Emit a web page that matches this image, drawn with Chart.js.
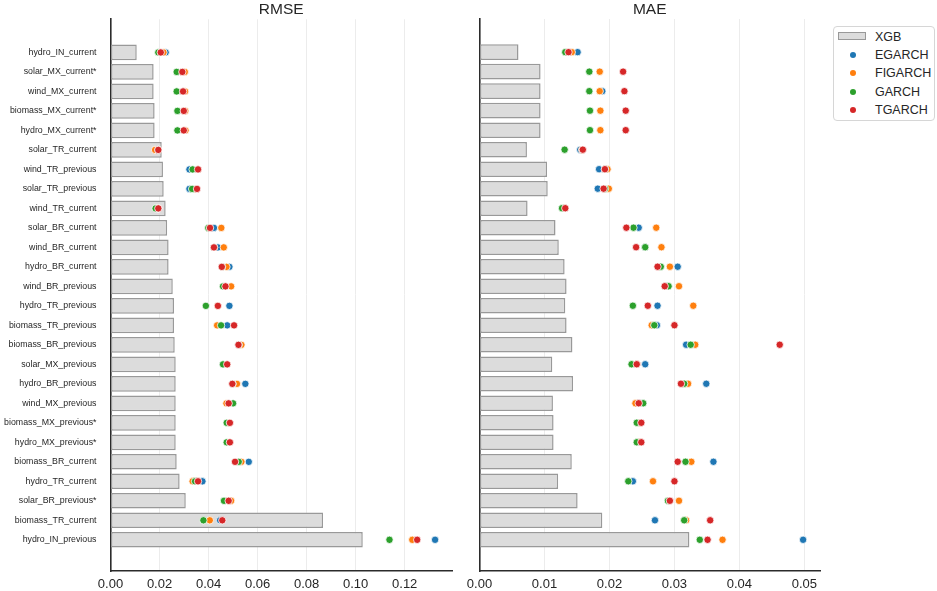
<!DOCTYPE html>
<html>
<head>
<meta charset="utf-8">
<script src="https://cdn.jsdelivr.net/npm/chart.js@4.4.1/dist/chart.umd.min.js"></script>
<style>
  html, body { margin: 0; padding: 0; background: #fff; }
  body { width: 937px; height: 591px; position: relative; overflow: hidden;
         font-family: "Liberation Sans", Arial, sans-serif; }
  canvas { position: absolute; top: 0; }
  #rmse { left: 0; }
  #mae { left: 460px; }
  #legend { position: absolute; left: 833px; top: 26px; width: 102px; height: 95px;
            border: 1px solid #d6d6d6; border-radius: 4px; box-sizing: border-box; background: #fff; }
  .item { position: absolute; left: 41px; height: 18px; line-height: 18px; font-size: 12.5px; color: #262626; }
  .patch { position: absolute; left: 4px; top: 5px; width: 28px; height: 8px; box-sizing: border-box;
           background: #dcdcdc; border: 1px solid #999999; }
  .dot { position: absolute; width: 6px; height: 6px; border-radius: 50%; left: 15.5px; }
</style>
</head>
<body>
<canvas id="rmse" width="460" height="591"></canvas>
<canvas id="mae" width="370" height="591"></canvas>
<div id="legend"></div>
<script>
// Rows, top to bottom
const categories = [
  'hydro_IN_current', 'solar_MX_current*', 'wind_MX_current', 'biomass_MX_current*', 'hydro_MX_current*',
  'solar_TR_current', 'wind_TR_previous', 'solar_TR_previous', 'wind_TR_current', 'solar_BR_current',
  'wind_BR_current', 'hydro_BR_current', 'wind_BR_previous', 'hydro_TR_previous', 'biomass_TR_previous',
  'biomass_BR_previous', 'solar_MX_previous', 'hydro_BR_previous', 'wind_MX_previous', 'biomass_MX_previous*',
  'hydro_MX_previous*', 'biomass_BR_current', 'hydro_TR_current', 'solar_BR_previous*', 'biomass_TR_current',
  'hydro_IN_previous'
];

// RMSE per model
const xgbRmse = [0.0107, 0.0176, 0.0176, 0.0180, 0.0180, 0.0209, 0.0214, 0.0217, 0.0225, 0.0231,
  0.0237, 0.0237, 0.0254, 0.0259, 0.0259, 0.0262, 0.0266, 0.0266, 0.0266, 0.0266,
  0.0266, 0.0270, 0.0282, 0.0307, 0.0867, 0.1029];
const egarchRmse = [0.0225, null, 0.0297, null, null, 0.0194, 0.0322, 0.0322, 0.0195, 0.0422,
  0.0438, 0.0485, 0.0468, 0.0485, 0.0476, 0.0522, 0.0460, 0.0550, 0.0481, null,
  null, 0.0564, 0.0375, null, 0.0447, 0.1324];
const figarchRmse = [0.0216, 0.0303, 0.0304, 0.0305, 0.0306, 0.0182, 0.0356, 0.0350, 0.0194, 0.0452,
  0.0462, 0.0473, 0.0492, 0.0437, 0.0435, 0.0534, 0.0475, 0.0516, 0.0473, 0.0486,
  0.0486, 0.0534, 0.0335, 0.0492, 0.0405, 0.1231];
const garchRmse = [0.0195, 0.0270, 0.0270, 0.0273, 0.0273, 0.0195, 0.0335, 0.0333, 0.0184, 0.0399,
  0.0423, 0.0455, 0.0459, 0.0389, 0.0451, 0.0523, 0.0459, 0.0498, 0.0500, 0.0474,
  0.0474, 0.0523, 0.0345, 0.0463, 0.0379, 0.1138];
const tgarchRmse = [0.0205, 0.0293, 0.0296, 0.0299, 0.0299, 0.0195, 0.0357, 0.0353, 0.0195, 0.0406,
  0.0422, 0.0454, 0.0469, 0.0438, 0.0504, 0.0522, 0.0476, 0.0497, 0.0482, 0.0487,
  0.0487, 0.0508, 0.0357, 0.0482, 0.0456, 0.1251];

// MAE per model
const xgbMae = [0.0060, 0.0094, 0.0094, 0.0094, 0.0094, 0.0073, 0.0104, 0.0105, 0.0074, 0.0117,
  0.0122, 0.0131, 0.0134, 0.0132, 0.0134, 0.0143, 0.0112, 0.0144, 0.0113, 0.0114,
  0.0114, 0.0142, 0.0121, 0.0151, 0.0189, 0.0323];
const egarchMae = [0.0151, null, 0.0189, null, null, 0.0155, 0.0184, 0.0182, 0.0131, 0.0245,
  0.0255, 0.0305, 0.0287, 0.0274, 0.0273, 0.0318, 0.0255, 0.0349, 0.0245, null,
  null, 0.0360, 0.0236, null, 0.0270, 0.0498];
const figarchMae = [0.0142, 0.0185, 0.0185, 0.0186, 0.0186, 0.0158, 0.0197, 0.0199, 0.0131, 0.0272,
  0.0280, 0.0293, 0.0307, 0.0329, 0.0265, 0.0332, 0.0242, 0.0321, 0.0240, 0.0247,
  0.0247, 0.0326, 0.0267, 0.0307, 0.0318, 0.0374];
const garchMae = [0.0132, 0.0169, 0.0169, 0.0170, 0.0170, 0.0131, 0.0193, 0.0193, 0.0127, 0.0237,
  0.0255, 0.0279, 0.0291, 0.0236, 0.0269, 0.0325, 0.0234, 0.0315, 0.0252, 0.0242,
  0.0242, 0.0317, 0.0229, 0.0290, 0.0315, 0.0339];
const tgarchMae = [0.0137, 0.0221, 0.0223, 0.0225, 0.0225, 0.0159, 0.0193, 0.0191, 0.0132, 0.0226,
  0.0241, 0.0274, 0.0285, 0.0259, 0.0300, 0.0462, 0.0242, 0.0310, 0.0245, 0.0249,
  0.0249, 0.0305, 0.0300, 0.0293, 0.0355, 0.0351];

// Axis ticks
const rmseTicks = [0, 0.02, 0.04, 0.06, 0.08, 0.10, 0.12];
const maeTicks = [0, 0.01, 0.02, 0.03, 0.04, 0.05];

const TEXT = '#262626';
const FONT = '"Liberation Sans", Arial, sans-serif';
const models = [
  { name: 'EGARCH', color: '#1f77b4' },
  { name: 'FIGARCH', color: '#ff7f0e' },
  { name: 'GARCH', color: '#2ca02c' },
  { name: 'TGARCH', color: '#d62728' }
];

// Title centred over the plotting area
const panelTitle = {
  id: 'panelTitle',
  afterDraw(chart, args, opts) {
    const { ctx, chartArea } = chart;
    ctx.save();
    ctx.font = '15.5px ' + FONT;
    ctx.fillStyle = TEXT;
    ctx.textAlign = 'center';
    ctx.textBaseline = 'middle';
    ctx.fillText(opts.text, (chartArea.left + chartArea.right) / 2, 10);
    ctx.restore();
  }
};

function buildPanel(id, title, xMax, xTicks, bars, seriesValues, showLabels, axisWidth, rightPad) {
  const datasets = [{
    type: 'bar',
    label: 'XGB',
    data: bars.map((v, i) => ({ x: v, y: i })),
    backgroundColor: '#dcdcdc',
    borderColor: '#999999',
    borderWidth: 1.5,
    borderSkipped: false,
    barPercentage: 0.8,
    categoryPercentage: 1,
    order: 10
  }];
  models.forEach((m, k) => {
    datasets.push({
      type: 'scatter',
      label: m.name,
      data: seriesValues[k].map((v, i) => (v == null ? null : { x: v, y: i })).filter(Boolean),
      backgroundColor: m.color,
      borderColor: '#ffffff',
      borderWidth: 0.8,
      pointRadius: 3.7,
      order: 4 - k
    });
  });

  return new Chart(document.getElementById(id), {
    type: 'bar',
    data: { datasets },
    plugins: [panelTitle],
    options: {
      indexAxis: 'y',
      responsive: false,
      animation: false,
      devicePixelRatio: 1,
      layout: { padding: { left: 0, right: rightPad, top: 19, bottom: 0 } },
      plugins: {
        legend: { display: false },
        tooltip: { enabled: false },
        panelTitle: { text: title }
      },
      scales: {
        x: {
          type: 'linear',
          min: 0,
          max: xMax,
          offset: false,
          afterBuildTicks: s => { s.ticks = xTicks.map(v => ({ value: v })); },
          afterFit: s => { s.height = 20; },
          ticks: {
            callback: v => v.toFixed(2),
            font: { family: FONT, size: 13 },
            color: TEXT,
            padding: 6,
            maxRotation: 0
          },
          grid: { color: '#ececec', lineWidth: 1, drawTicks: false, offset: false },
          border: { display: true, color: '#2b2b2b', width: 1.6 }
        },
        y: {
          type: 'linear',
          reverse: true,
          min: -1.7,
          max: 26.6,
          offset: false,
          afterBuildTicks: s => { s.ticks = categories.map((c, i) => ({ value: i })); },
          afterFit: s => { s.width = axisWidth; },
          ticks: {
            display: showLabels,
            autoSkip: false,
            callback: v => categories[v],
            font: { family: FONT, size: 8.8 },
            color: TEXT,
            padding: 14
          },
          grid: { display: false, drawTicks: false, offset: false },
          border: { display: true, color: '#2b2b2b', width: 1.6 }
        }
      }
    }
  });
}

buildPanel('rmse', 'RMSE', 0.1393, rmseTicks, xgbRmse,
  [egarchRmse, figarchRmse, garchRmse, tgarchRmse], true, 110.5, 8);
buildPanel('mae', 'MAE', 0.0524, maeTicks, xgbMae,
  [egarchMae, figarchMae, garchMae, tgarchMae], false, 19.5, 10);

// Legend
const legend = document.getElementById('legend');
const rowsY = [1, 19.3, 37.3, 56, 74.3];
const xgbRow = document.createElement('div');
xgbRow.innerHTML = '<div class="patch"></div>';
legend.appendChild(xgbRow);
const xgbText = document.createElement('div');
xgbText.className = 'item';
xgbText.style.top = rowsY[0] + 'px';
xgbText.textContent = 'XGB';
legend.appendChild(xgbText);
models.forEach((m, k) => {
  const dot = document.createElement('div');
  dot.className = 'dot';
  dot.style.background = m.color;
  dot.style.top = (rowsY[k + 1] + 6) + 'px';
  legend.appendChild(dot);
  const t = document.createElement('div');
  t.className = 'item';
  t.style.top = rowsY[k + 1] + 'px';
  t.textContent = m.name;
  legend.appendChild(t);
});
</script>
</body>
</html>
